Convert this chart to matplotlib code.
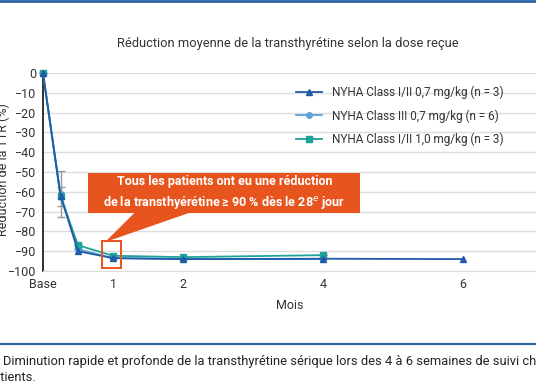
import matplotlib.pyplot as plt
from matplotlib.patches import Rectangle, Polygon
from matplotlib.lines import Line2D

plt.rcParams['font.family'] = ['Roboto', 'DejaVu Sans']

# mois depuis la dose
mois_12 = [0, 0.25, 0.5, 1, 2, 4, 6]
red_12 = [0, -62, -90, -93.5, -94, -93.8, -94]
mois_3 = [0, 0.25, 0.5, 1, 2, 4]
red_3 = [0, -61, -89, -93.5, -94, -94]
err_3 = [0, 11.6, 0, 0, 0, 0]
mois_1 = [0, 0.25, 0.5, 1, 2, 4]
red_1 = [0, -62.3, -87, -92.3, -93, -92]
err_1 = [0, 4.7, 0, 0, 0, 0]

labels = ['NYHA Class I/II 0,7 mg/kg (n = 3)',
          'NYHA Class III 0,7 mg/kg (n = 6)',
          'NYHA Class I/II 1,0 mg/kg (n = 3)']
xticks = [0, 1, 2, 4, 6]
xticklabels = ['Base', '1', '2', '4', '6']

c_dark = '#1f5ba6'
c_light = '#5ba3d9'
c_teal = '#1ea39b'
c_orange = '#e8541e'
c_txt = '#333333'

fig = plt.figure(figsize=(5.36, 3.86), dpi=100, facecolor='white')
ax = fig.add_axes([43 / 536, 115 / 386, 1 - 43 / 536, 198 / 386])

ax.errorbar(mois_3, red_3, yerr=err_3, color=c_light, ecolor='#9a9a9a',
            elinewidth=1, capsize=3, marker='o', ms=4, lw=1.3, zorder=3, clip_on=False)
ax.errorbar(mois_1, red_1, yerr=err_1, color=c_teal, ecolor='#9a9a9a',
            elinewidth=1, capsize=3, marker='s', ms=4, lw=1.3, zorder=4, clip_on=False)
ax.plot(mois_12, red_12, color=c_dark, marker='^', ms=4, lw=1.3, zorder=5, clip_on=False)

ax.set_xlim(0, 7.04)
ax.set_ylim(-100, 0)
ax.set_yticks(range(-100, 1, 10))
ax.set_xticks(xticks)
ax.set_xticklabels(xticklabels)
ax.yaxis.grid(True, color='#dddddd', lw=1)
ax.set_axisbelow(True)
for s in ['top', 'right']:
    ax.spines[s].set_visible(False)
ax.spines['bottom'].set_color('#dddddd')
ax.spines['left'].set_color('#222222')
ax.spines['left'].set_linewidth(1.3)
ax.tick_params(length=0, labelsize=9, colors=c_txt, pad=5)
ax.tick_params(axis='x', pad=5)
ax.set_xlabel('Mois', fontsize=9, color=c_txt, labelpad=6)

handles = [Line2D([], [], color=c_dark, marker='^', ms=4, lw=1.3),
           Line2D([], [], color=c_light, marker='o', ms=4, lw=1.3),
           Line2D([], [], color=c_teal, marker='s', ms=4, lw=1.3)]
ax.legend(handles, labels, loc='upper left',
          bbox_to_anchor=(0.492, 0.99), frameon=False, fontsize=8.5,
          labelspacing=0.85, handlelength=2.2, labelcolor=c_txt)

# encadré orange
ax.add_patch(Polygon([(1.31, -70.5), (2.1, -70.5), (0.886, -85.4)], closed=True,
                     color=c_orange, lw=0, zorder=6))
ax.add_patch(Rectangle((0.64, -70.7), 3.89, 20.2, color=c_orange, lw=0, zorder=6))
ax.add_patch(Rectangle((0.84, -98.5), 0.27, 13.5, fill=False, ec=c_orange, lw=1.4,
                       zorder=7, clip_on=False))
ax.text(2.59, -60.6, 'Tous les patients ont eu une réduction\n'
        'de la transthyérétine \u2265 90 % dès le 28$^{e}$ jour',
        ha='center', va='center', color='white', fontsize=9, fontweight='bold',
        linespacing=1.45, zorder=8)

fig.text(288 / 536, 1 - 43 / 386, 'Réduction moyenne de la transthyrétine selon la dose reçue',
         ha='center', va='center', fontsize=9.3, color=c_txt)
fig.text(3 / 536, 1 - 170 / 386, 'Réduction de la TTR (%)', rotation=90,
         ha='center', va='center', fontsize=9, color=c_txt)

fig.add_artist(Line2D([0, 1], [1 - 1 / 386, 1 - 1 / 386], color='#2a63a8', lw=2))
fig.add_artist(Line2D([0, 1], [1 - 344 / 386, 1 - 344 / 386], color='#2a63a8', lw=1.5))
fig.text(3 / 536, 1 - 362 / 386,
         'Diminution rapide et profonde de la transthyrétine sérique lors des 4 à 6 semaines de suivi chez les patients.',
         ha='left', va='center', fontsize=9.3, color='#222222')
fig.text(36 / 536, 1 - 377 / 386, 'patients.', ha='right', va='center',
         fontsize=9.3, color='#222222')

fig.savefig('out.png', dpi=100)
